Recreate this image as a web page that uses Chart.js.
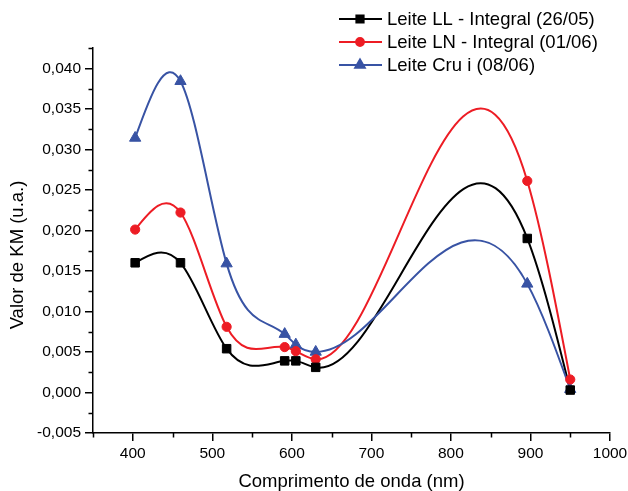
<!DOCTYPE html>
<html>
<head>
<meta charset="utf-8">
<script src="https://cdn.jsdelivr.net/npm/chart.js@4.4.1/dist/chart.umd.min.js"></script>
<style>
  html, body { margin: 0; padding: 0; background: #fff; }
  #wrap { width: 628px; height: 491px; }
</style>
</head>
<body>
<div id="wrap"><canvas id="chart" width="628" height="491"></canvas></div>
<script>
// --- dados ---
const wavelengths = [403, 460, 518, 591, 605, 630, 896, 950];
const leiteLL  = [0.0160, 0.0160, 0.0054, 0.0039, 0.0039, 0.0031, 0.0190, 0.0003];
const leiteLN  = [0.0201, 0.0222, 0.0081, 0.0056, 0.0051, 0.0041, 0.0261, 0.0016];
const leiteCru = [0.0314, 0.0384, 0.0159, 0.0072, 0.0059, 0.0050, 0.0134, 0.0004];
const seriesNames = ["Leite LL - Integral (26/05)", "Leite LN - Integral (01/06)", "Leite Cru i (08/06)"];

const xTicks = [400, 500, 600, 700, 800, 900, 1000];
const xMinor = [350, 450, 550, 650, 750, 850, 950];
const yTicks = [-0.005, 0, 0.005, 0.010, 0.015, 0.020, 0.025, 0.030, 0.035, 0.040];
const yMinor = [-0.0025, 0.0025, 0.0075, 0.0125, 0.0175, 0.0225, 0.0275, 0.0325, 0.0375, 0.0425];

const FONT = "'Liberation Sans', Arial, sans-serif";
Chart.defaults.font.family = FONT;
Chart.defaults.color = "#000";

const styles = [
    { color: "#000000", point: "rect", r: 6 },
    { color: "#ed1c24", point: "circle", r: 4.6 },
    { color: "#3853a4", point: "triangle", r: 6.5 }
];

function fmt(v) {
    return v.toFixed(3).replace(".", ",");
}

// curva spline cúbica natural passando pelos pontos (em pixels)
function drawSpline(ctx, pts) {
    const n = pts.length;
    const h = [], M = new Array(n).fill(0);
    for (let i = 0; i < n - 1; i++) h.push(pts[i + 1].x - pts[i].x);
    const a = [], b = [], c = [], d = [];
    for (let i = 1; i < n - 1; i++) {
        a.push(h[i - 1]); b.push(2 * (h[i - 1] + h[i])); c.push(h[i]);
        d.push(6 * ((pts[i + 1].y - pts[i].y) / h[i] - (pts[i].y - pts[i - 1].y) / h[i - 1]));
    }
    const m = d.length;
    for (let i = 1; i < m; i++) {
        const w = a[i] / b[i - 1];
        b[i] -= w * c[i - 1];
        d[i] -= w * d[i - 1];
    }
    const sol = new Array(m);
    sol[m - 1] = d[m - 1] / b[m - 1];
    for (let i = m - 2; i >= 0; i--) sol[i] = (d[i] - c[i] * sol[i + 1]) / b[i];
    for (let i = 0; i < m; i++) M[i + 1] = sol[i];

    ctx.beginPath();
    ctx.moveTo(pts[0].x, pts[0].y);
    for (let i = 0; i < n - 1; i++) {
        const p0 = pts[i], p1 = pts[i + 1], hh = h[i];
        const sl = (p1.y - p0.y) / hh;
        const s0 = sl - hh * (2 * M[i] + M[i + 1]) / 6;
        const s1 = sl + hh * (M[i] + 2 * M[i + 1]) / 6;
        ctx.bezierCurveTo(p0.x + hh / 3, p0.y + s0 * hh / 3, p1.x - hh / 3, p1.y - s1 * hh / 3, p1.x, p1.y);
    }
    ctx.stroke();
}

const splinePlugin = {
    id: "spline",
    beforeDatasetsDraw(chart) {
        const ctx = chart.ctx;
        ctx.save();
        ctx.lineWidth = 2;
        ctx.lineJoin = "round";
        chart.data.datasets.forEach((ds, i) => {
            const pts = chart.getDatasetMeta(i).data.map(p => ({ x: p.x, y: p.y }));
            ctx.strokeStyle = ds.borderColor;
            drawSpline(ctx, pts);
        });
        ctx.restore();
    }
};

const extrasPlugin = {
    id: "extras",
    afterDraw(chart) {
        const ctx = chart.ctx;
        const xs = chart.scales.x, ys = chart.scales.y;
        ctx.save();
        // ticks menores
        ctx.strokeStyle = "#000";
        ctx.lineWidth = 1.5;
        ctx.beginPath();
        xMinor.forEach(v => {
            const px = Math.round(xs.getPixelForValue(v)) + 0.5;
            ctx.moveTo(px, xs.top);
            ctx.lineTo(px, xs.top + 4.5);
        });
        yMinor.forEach(v => {
            const py = Math.round(ys.getPixelForValue(v)) + 0.5;
            ctx.moveTo(ys.right, py);
            ctx.lineTo(ys.right - 4.5, py);
        });
        ctx.stroke();

        // título do eixo Y
        ctx.translate(17.5, 255);
        ctx.rotate(-Math.PI / 2);
        ctx.font = "18.5px " + FONT;
        ctx.fillStyle = "#000";
        ctx.textAlign = "center";
        ctx.textBaseline = "middle";
        ctx.fillText("Valor de KM (u.a.)", 0, 0);
        ctx.restore();

        // legenda
        ctx.save();
        const rows = [19, 42, 65];
        chart.data.datasets.forEach((ds, i) => {
            const y = rows[i];
            ctx.strokeStyle = ds.borderColor;
            ctx.lineWidth = 2;
            ctx.beginPath();
            ctx.moveTo(339, y);
            ctx.lineTo(382, y);
            ctx.stroke();
            ctx.fillStyle = ds.borderColor;
            Chart.helpers.drawPoint(ctx, {
                pointStyle: styles[i].point,
                radius: styles[i].r * 0.85,
                borderWidth: 1,
                rotation: 0
            }, 360, y);
            ctx.fillStyle = "#000";
            ctx.font = "18.5px " + FONT;
            ctx.textAlign = "left";
            ctx.textBaseline = "middle";
            ctx.fillText(ds.label, 387, y + 1);
        });
        ctx.restore();
    }
};

const seriesValues = [leiteLL, leiteLN, leiteCru];

new Chart(document.getElementById("chart"), {
    type: "line",
    data: {
        datasets: seriesValues.map((vals, i) => ({
            label: seriesNames[i],
            data: wavelengths.map((w, j) => ({ x: w, y: vals[j] })),
            showLine: false,
            borderColor: styles[i].color,
            backgroundColor: styles[i].color,
            pointStyle: styles[i].point,
            pointRadius: styles[i].r,
            pointBorderWidth: 1,
            pointHoverRadius: styles[i].r
        }))
    },
    options: {
        responsive: false,
        animation: false,
        layout: { padding: { top: 48, right: 18, left: 0, bottom: 0 } },
        plugins: {
            legend: { display: false },
            tooltip: { enabled: false }
        },
        scales: {
            x: {
                type: "linear",
                min: 350,
                max: 1000,
                afterBuildTicks: s => { s.ticks = xTicks.map(v => ({ value: v })); },
                afterFit: s => { s.height = 58; s.paddingRight = 0; },
                ticks: {
                    font: { size: 15.5 },
                    color: "#000",
                    padding: 3,
                    maxRotation: 0,
                    callback: v => String(v)
                },
                grid: {
                    drawOnChartArea: false,
                    tickLength: 8,
                    color: "#000",
                    lineWidth: 1.5
                },
                border: { color: "#000", width: 1.5 },
                title: {
                    display: true,
                    text: "Comprimento de onda (nm)",
                    font: { size: 18.5, lineHeight: 1 },
                    color: "#000",
                    padding: 0
                }
            },
            y: {
                type: "linear",
                min: -0.005,
                max: 0.0425,
                afterBuildTicks: s => { s.ticks = yTicks.map(v => ({ value: v })); },
                afterFit: s => { s.width = 93; },
                ticks: {
                    font: { size: 15.5 },
                    color: "#000",
                    padding: 4,
                    callback: v => fmt(v)
                },
                grid: {
                    drawOnChartArea: false,
                    tickLength: 8,
                    color: "#000",
                    lineWidth: 1.5
                },
                border: { color: "#000", width: 1.5 }
            }
        }
    },
    plugins: [splinePlugin, extrasPlugin]
});
</script>
</body>
</html>
